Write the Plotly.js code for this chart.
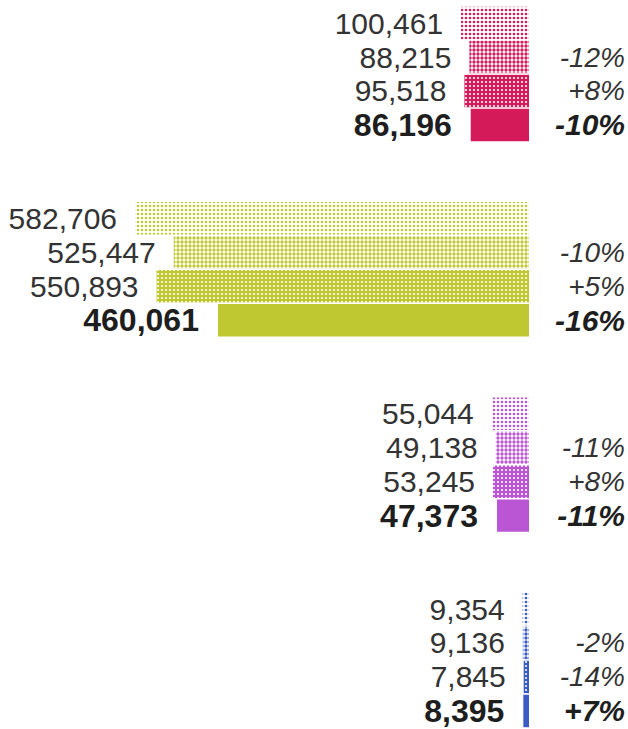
<!DOCTYPE html>
<html><head><meta charset="utf-8">
<script src="https://cdn.plot.ly/plotly-3.0.1.min.js"></script>
<style>html,body{margin:0;padding:0;background:#fff;}#chart{width:628px;height:729px;}</style>
</head><body><div id="chart"></div>
<script>
// ---- data ----
const categories = ['Group A', 'Group B', 'Group C', 'Group D'];
const periods = ['Period 1', 'Period 2', 'Period 3', 'Period 4'];
const values1 = [100461, 582706, 55044, 9354];
const values2 = [88215, 525447, 49138, 9136];
const values3 = [95518, 550893, 53245, 7845];
const values4 = [86196, 460061, 47373, 8395];
const change1 = ['', '', '', ''];
const change2 = ['-12%', '-10%', '-11%', '-2%'];
const change3 = ['+8%', '+5%', '+8%', '-14%'];
const change4 = ['-10%', '-16%', '-11%', '+7%'];
const colors = ['#D51A5A', '#BFC831', '#BA55D3', '#3B5BC4'];

const allValues = [values1, values2, values3, values4];
const allChanges = [change1, change2, change3, change4];

const FONT = 'Liberation Sans, Arial, sans-serif';
const whites = colors.map(() => '#ffffff');

// marker colour of patterned traces is a single value so that the per-point
// pattern colours are honoured (an array marker colour overrides them)
const markers = [
  {color: '#ffffff', line: {width: 0}, pattern: {shape: '.', size: 4, solidity: 0.35, fillmode: 'replace', fgcolor: colors, bgcolor: whites}},
  {color: '#ffffff', line: {width: 0}, pattern: {shape: '.', size: 4, solidity: 0.55, fillmode: 'replace', fgcolor: colors, bgcolor: whites}},
  {color: '#ffffff', line: {width: 0}, pattern: {shape: '.', size: 4, solidity: 0.22, fillmode: 'replace', fgcolor: whites, bgcolor: colors}},
  {color: colors, line: {width: 0}}
];

const traces = [];
allValues.forEach((vals, i) => {
  const last = i === allValues.length - 1;
  traces.push({
    type: 'bar', orientation: 'h', name: periods[i],
    y: categories, x: vals,
    marker: markers[i],
    texttemplate: '%{x:,}\u2002',
    textposition: 'outside', constraintext: 'none', cliponaxis: false,
    textfont: {family: FONT, size: last ? 32 : 30, color: last ? '#1e1e1e' : '#333333', weight: last ? 'bold' : 'normal'},
    hoverinfo: 'skip'
  });
});
allChanges.forEach((ch, i) => {
  const last = i === allChanges.length - 1;
  traces.push({
    type: 'bar', orientation: 'h', name: periods[i] + ' change',
    y: categories, x: categories.map(() => 1),
    xaxis: 'x2', yaxis: 'y',
    marker: {color: 'rgba(0,0,0,0)', line: {width: 0}},
    text: ch, textposition: 'inside', insidetextanchor: 'end',
    constraintext: 'none', cliponaxis: false,
    textfont: {family: FONT, size: last ? 30 : 28, color: last ? '#1e1e1e' : '#333333', style: 'italic', weight: last ? 'bold' : 'normal'},
    hoverinfo: 'skip'
  });
});

const layout = {
  width: 628, height: 729,
  margin: {l: 0, r: 0, t: 0, b: 0},
  paper_bgcolor: 'white', plot_bgcolor: 'white',
  barmode: 'group', bargap: 0.304, bargroupgap: 0.045,
  showlegend: false,
  xaxis: {domain: [0, 529 / 628], range: [782400, 0], visible: false},
  xaxis2: {domain: [529 / 628, 1], range: [0, 1], visible: false, anchor: 'y'},
  yaxis: {type: 'category', range: [3.3533, -0.3788], visible: false}
};

Plotly.newPlot('chart', traces, layout, {displayModeBar: false, staticPlot: true});
</script>
</body></html>
